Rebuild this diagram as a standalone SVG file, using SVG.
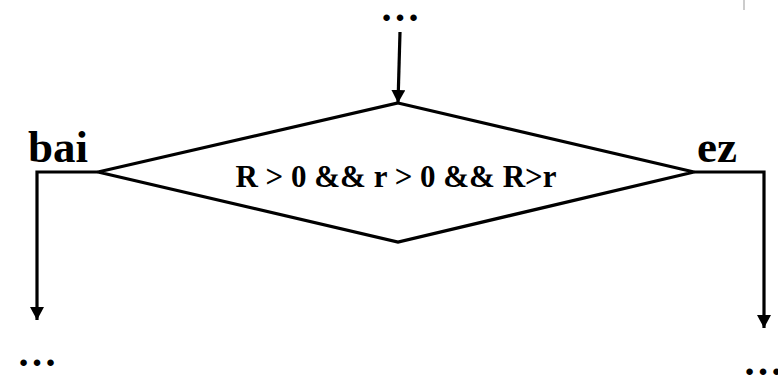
<svg xmlns="http://www.w3.org/2000/svg" width="778" height="376" viewBox="0 0 778 376">
<defs>
<style>
.ln{stroke:#000;stroke-width:3.2;fill:none}
.lbl{font-family:"Liberation Serif","Times New Roman",serif;font-weight:bold;fill:#000}
</style>
<marker id="ah" markerWidth="13" markerHeight="14" refX="13" refY="7" orient="auto" markerUnits="userSpaceOnUse">
<path d="M0,0 L13,7 L0,14 Z" fill="#000"/>
</marker>
</defs>
<rect width="778" height="376" fill="#fff"/>
<line x1="744" y1="0" x2="744" y2="10" stroke="#999" stroke-width="1"/>
<g id="start">
<text class="lbl" x="400" y="21" font-size="40" text-anchor="middle">…</text>
</g>
<g id="decision">
<polygon class="ln" points="398,103 694,172 398,242 98,172"/>
<text class="lbl" x="396" y="187" font-size="31" text-anchor="middle">R &gt; 0 &amp;&amp; r &gt; 0 &amp;&amp; R&gt;r</text>
</g>
<g id="no-end">
<text class="lbl" x="37" y="366" font-size="40" text-anchor="middle">…</text>
</g>
<g id="yes-end">
<text class="lbl" x="743" y="375" font-size="40">…</text>
</g>
<g id="connectors">
<line class="ln" x1="400" y1="32" x2="398" y2="103" marker-end="url(#ah)"/>
<polyline class="ln" points="98,172 37,172 37,320" marker-end="url(#ah)"/>
<polyline class="ln" points="694,172 764,172 764,328" marker-end="url(#ah)"/>
<text class="lbl" x="28" y="162" font-size="45">bai</text>
<text class="lbl" x="697" y="162" font-size="45">ez</text>
</g>
</svg>
